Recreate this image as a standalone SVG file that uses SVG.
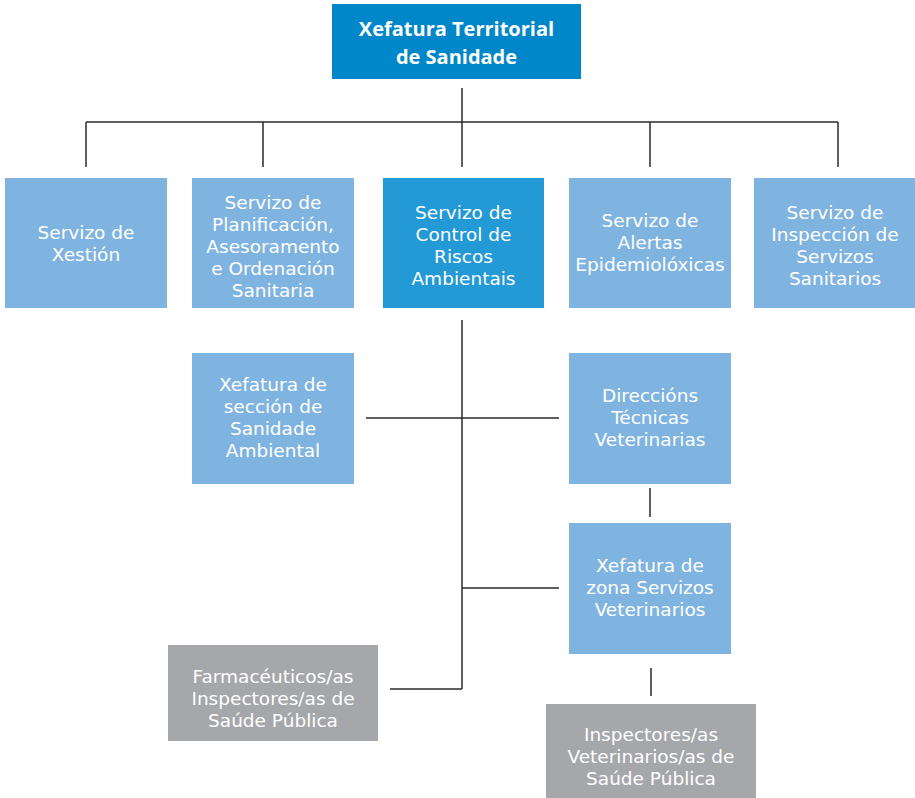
<svg xmlns="http://www.w3.org/2000/svg" width="915" height="798" viewBox="0 0 915 798">
<style>
.top{fill:#0087C9}
.mid{fill:#2399D6}
.lt{fill:#7FB4E1}
.gr{fill:#A6A7AA}
text{font-family:"DejaVu Sans","Open Sans",sans-serif;font-size:18.5px;fill:#FFFFFF;text-anchor:middle}
.b{font-family:"Open Sans","Noto Sans",sans-serif;font-size:20px;font-weight:bold}
.ln{stroke:#2A2A2A;stroke-width:1.5;fill:none}
</style>
<rect width="915" height="798" fill="#FFFFFF"/>
<g id="connectors" class="ln">
<line x1="462" y1="88" x2="462" y2="167"/>
<line x1="86" y1="122" x2="838" y2="122"/>
<line x1="86" y1="122" x2="86" y2="167"/>
<line x1="263" y1="122" x2="263" y2="167"/>
<line x1="650" y1="122" x2="650" y2="167"/>
<line x1="838" y1="122" x2="838" y2="167"/>
<line x1="462" y1="320" x2="462" y2="689"/>
<line x1="366" y1="418" x2="559" y2="418"/>
<line x1="462" y1="588" x2="559" y2="588"/>
<line x1="390" y1="689" x2="462" y2="689"/>
<line x1="650" y1="488" x2="650" y2="517"/>
<line x1="651" y1="668" x2="651" y2="696"/>
</g>
<g id="n-xefatura">
<rect class="top" x="332" y="4" width="249" height="75"/>
<text class="b" x="456.5" y="36">Xefatura Territorial<tspan x="456.5" y="64">de Sanidade</tspan></text>
</g>
<g id="n-xestion">
<rect class="lt" x="5" y="178" width="162" height="130"/>
<text x="86" y="239">Servizo de<tspan x="86" y="261">Xestión</tspan></text>
</g>
<g id="n-planificacion">
<rect class="lt" x="192" y="178" width="162" height="130"/>
<text x="273" y="209">Servizo de<tspan x="273" y="231">Planificación,</tspan><tspan x="273" y="253">Asesoramento</tspan><tspan x="273" y="275">e Ordenación</tspan><tspan x="273" y="297">Sanitaria</tspan></text>
</g>
<g id="n-riscos">
<rect class="mid" x="383" y="178" width="161" height="130"/>
<text x="463.5" y="219">Servizo de<tspan x="463.5" y="241">Control de</tspan><tspan x="463.5" y="263">Riscos</tspan><tspan x="463.5" y="285">Ambientais</tspan></text>
</g>
<g id="n-alertas">
<rect class="lt" x="569" y="178" width="162" height="130"/>
<text x="650" y="227">Servizo de<tspan x="650" y="249">Alertas</tspan><tspan x="650" y="271">Epidemiolóxicas</tspan></text>
</g>
<g id="n-inspeccion">
<rect class="lt" x="754" y="178" width="162" height="130"/>
<text x="835" y="219">Servizo de<tspan x="835" y="241">Inspección de</tspan><tspan x="835" y="263">Servizos</tspan><tspan x="835" y="285">Sanitarios</tspan></text>
</g>
<g id="n-seccion">
<rect class="lt" x="192" y="353" width="162" height="131"/>
<text x="273" y="391">Xefatura de<tspan x="273" y="413">sección de</tspan><tspan x="273" y="435">Sanidade</tspan><tspan x="273" y="457">Ambiental</tspan></text>
</g>
<g id="n-direccions">
<rect class="lt" x="569" y="353" width="162" height="131"/>
<text x="650" y="402">Direccións<tspan x="650" y="424">Técnicas</tspan><tspan x="650" y="446">Veterinarias</tspan></text>
</g>
<g id="n-zona">
<rect class="lt" x="569" y="523" width="162" height="131"/>
<text x="650" y="572">Xefatura de<tspan x="650" y="594">zona Servizos</tspan><tspan x="650" y="616">Veterinarios</tspan></text>
</g>
<g id="n-farmaceuticos">
<rect class="gr" x="168" y="645" width="210" height="96"/>
<text x="273" y="683">Farmacéuticos/as<tspan x="273" y="705">Inspectores/as de</tspan><tspan x="273" y="727">Saúde Pública</tspan></text>
</g>
<g id="n-inspectores-vet">
<rect class="gr" x="546" y="704" width="210" height="94"/>
<text x="651" y="741">Inspectores/as<tspan x="651" y="763">Veterinarios/as de</tspan><tspan x="651" y="785">Saúde Pública</tspan></text>
</g>
</svg>
